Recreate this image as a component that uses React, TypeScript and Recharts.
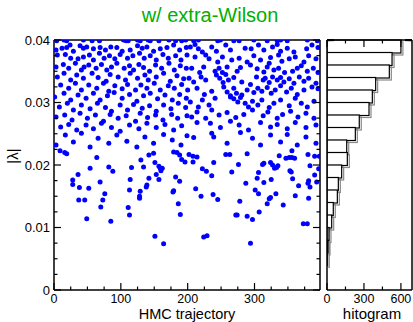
import { ScatterChart, Scatter, XAxis, YAxis, BarChart, Bar } from "recharts";

const FONT = '"Liberation Sans", Arial, Helvetica, sans-serif';

// axis ticks (minor + major) and the labels on the major ones
const trajTicks = [0, 25, 50, 75, 100, 125, 150, 175, 200, 225, 250, 275, 300, 325, 350, 375];
const trajMajor = [0, 100, 200, 300];
const trajLabels = ["0", "100", "200", "300"];
const lambdaTicks = [0, 0.0025, 0.005, 0.0075, 0.01, 0.0125, 0.015, 0.0175, 0.02, 0.0225, 0.025, 0.0275, 0.03, 0.0325, 0.035, 0.0375, 0.04];
const lambdaMajor = [0, 0.01, 0.02, 0.03, 0.04];
const lambdaLabels = ["0", "0.01", "0.02", "0.03", "0.04"];
const countTicks = [0, 150, 300, 450, 600];
const countMajor = [0, 300, 600];
const countLabels = ["0", "300", "600"];

// [HMC trajectory, |lambda|]
const eigUpperLeft: number[][] = [
  [4, 0.0399], [15, 0.04], [19, 0.0399], [44, 0.04], [57, 0.0399], [68, 0.0399], [104, 0.04], [108, 0.0399], [111, 0.0399],
  [125, 0.04], [129, 0.0399], [141, 0.04], [144, 0.0399], [157, 0.0399], [172, 0.04], [182, 0.0399], [191, 0.0399], [197, 0.04],
  [3, 0.0384], [12, 0.0387], [19, 0.0388], [24, 0.0392], [29, 0.0382], [39, 0.0391], [44, 0.0387], [49, 0.0389], [59, 0.0386],
  [69, 0.0388], [77, 0.0384], [85, 0.0389], [94, 0.0388], [102, 0.0382], [114, 0.0384], [125, 0.0391], [132, 0.0387], [139, 0.0389],
  [149, 0.0382], [159, 0.0386], [169, 0.0388], [179, 0.0392], [188, 0.0384], [198, 0.0388],
  [5, 0.0376], [17, 0.0377], [25, 0.0371], [36, 0.037], [44, 0.0373], [53, 0.0376], [59, 0.0368], [68, 0.0379], [75, 0.0371],
  [83, 0.0375], [91, 0.037], [99, 0.0377], [110, 0.0371], [118, 0.0375], [128, 0.0379], [135, 0.0371], [144, 0.0375], [153, 0.0368],
  [163, 0.0377], [171, 0.0371], [182, 0.0375], [190, 0.0368], [199, 0.0376],
  [3, 0.0357], [14, 0.0361], [22, 0.0355], [32, 0.0363], [41, 0.0352], [45, 0.0357], [52, 0.036], [63, 0.0355], [71, 0.0361],
  [79, 0.0352], [86, 0.0357], [94, 0.0363], [105, 0.0355], [113, 0.0359], [119, 0.0352], [127, 0.0361], [134, 0.0356], [143, 0.035],
  [152, 0.036], [161, 0.0355], [172, 0.0363], [180, 0.0352], [189, 0.0359], [198, 0.0355],
  [5, 0.0341], [15, 0.0347], [25, 0.0336], [34, 0.0344], [44, 0.0339], [57, 0.0347], [66, 0.034], [78, 0.0334], [84, 0.0345],
  [96, 0.0341], [107, 0.0336], [114, 0.0347], [125, 0.0339], [136, 0.0344], [141, 0.0336], [153, 0.0341], [164, 0.0347], [174, 0.0334],
  [184, 0.0343], [194, 0.0338],
  [10, 0.0328], [22, 0.0323], [32, 0.0331], [41, 0.032], [52, 0.0328], [64, 0.0323], [74, 0.0331], [82, 0.0318], [91, 0.0327],
  [102, 0.0322], [110, 0.0329], [122, 0.032], [130, 0.0328], [139, 0.0323], [150, 0.0331], [159, 0.032], [171, 0.0327], [180, 0.0323],
  [191, 0.0329], [200, 0.032],
  [1, 0.0309], [15, 0.0315], [25, 0.0304], [36, 0.0312], [48, 0.0307], [59, 0.0315], [69, 0.0304], [80, 0.0311], [90, 0.0316],
  [102, 0.0307], [113, 0.0313], [124, 0.0302], [134, 0.0311], [144, 0.0315], [155, 0.0306], [166, 0.0312], [177, 0.0304], [188, 0.0313],
  [198, 0.0307],
  [8, 0.0293], [20, 0.0299], [29, 0.0288], [41, 0.0296], [54, 0.029], [65, 0.0299], [77, 0.0292], [86, 0.0286], [99, 0.0296],
  [110, 0.0288], [119, 0.0297], [132, 0.0291], [143, 0.0295], [153, 0.0286], [164, 0.0296], [175, 0.029], [186, 0.0299], [197, 0.0292],
  [3, 0.0277], [16, 0.028], [27, 0.0272], [39, 0.0283], [50, 0.0275], [62, 0.028], [74, 0.027], [84, 0.0281], [96, 0.0275],
  [108, 0.0279], [122, 0.027], [129, 0.0283], [140, 0.0276], [152, 0.028], [163, 0.0272], [176, 0.0281], [185, 0.0275], [199, 0.0279],
  [10, 0.0261], [22, 0.0265], [34, 0.0256], [48, 0.0264], [59, 0.0258], [71, 0.0267], [86, 0.026], [99, 0.0254], [113, 0.0264],
  [127, 0.0258], [139, 0.0267], [153, 0.026], [166, 0.0265], [179, 0.0256], [191, 0.0263],
  [3, 0.0232], [17, 0.0248], [29, 0.0237], [41, 0.0251], [54, 0.0229], [66, 0.0243], [82, 0.0235], [94, 0.0248], [109, 0.0238],
  [124, 0.0229], [136, 0.0245], [149, 0.0235], [164, 0.0249], [177, 0.024], [190, 0.0232], [199, 0.0247],
];

const eigUpperRight: number[][] = [
  [209, 0.0399], [216, 0.04], [245, 0.0399], [249, 0.04], [269, 0.0399], [277, 0.0399], [299, 0.04], [319, 0.0399],
  [334, 0.0399], [339, 0.04], [349, 0.0399], [379, 0.04], [394, 0.0399],
  [204, 0.0389], [211, 0.0393], [216, 0.0386], [222, 0.0381], [236, 0.0389], [243, 0.0382], [257, 0.0392], [264, 0.0384],
  [286, 0.0387], [295, 0.0386], [306, 0.0392], [314, 0.0384], [327, 0.0389], [334, 0.0393], [339, 0.0382], [349, 0.0387],
  [359, 0.0381], [378, 0.0386], [386, 0.0392], [395, 0.0388],
  [211, 0.0373], [227, 0.0376], [232, 0.037], [245, 0.0365], [252, 0.0373], [266, 0.0368], [277, 0.0371], [289, 0.0365],
  [299, 0.0375], [309, 0.0368], [322, 0.0363], [324, 0.0372], [336, 0.0376], [341, 0.0366], [352, 0.037], [361, 0.0373],
  [374, 0.0365], [381, 0.0375], [392, 0.037],
  [206, 0.0355], [218, 0.0348], [224, 0.0357], [241, 0.035], [247, 0.0355], [252, 0.0348], [259, 0.0357], [274, 0.035],
  [279, 0.0356], [294, 0.036], [304, 0.0354], [314, 0.0349], [319, 0.0357], [329, 0.0352], [336, 0.0355], [345, 0.0348],
  [357, 0.035], [364, 0.0355], [370, 0.0359], [379, 0.035], [388, 0.0355], [395, 0.0348],
  [202, 0.0339], [209, 0.0333], [220, 0.0341], [227, 0.0336], [243, 0.0344], [248, 0.0339], [253, 0.0332], [257, 0.0345],
  [261, 0.0336], [269, 0.034], [281, 0.0333], [294, 0.0329], [303, 0.0341], [313, 0.0336], [316, 0.0339], [322, 0.0332],
  [327, 0.0341], [334, 0.0336], [339, 0.034], [344, 0.0333], [352, 0.0338], [359, 0.0331], [367, 0.0341], [374, 0.0334],
  [381, 0.0339], [392, 0.0331],
  [214, 0.0323], [225, 0.0313], [236, 0.0318], [254, 0.0325], [259, 0.0317], [264, 0.0311], [269, 0.0323], [273, 0.0315],
  [281, 0.0312], [289, 0.032], [299, 0.0316], [305, 0.0323], [311, 0.0318], [319, 0.0324], [325, 0.0315], [331, 0.032],
  [339, 0.0327], [348, 0.0317], [355, 0.0323], [364, 0.0313], [374, 0.032], [386, 0.0325], [395, 0.0322],
  [204, 0.0301], [216, 0.0293], [222, 0.0304], [232, 0.0296], [241, 0.0307], [264, 0.0309], [269, 0.0306], [275, 0.0301],
  [279, 0.0308], [286, 0.0299], [291, 0.0293], [297, 0.0302], [305, 0.0296], [311, 0.0304], [322, 0.0292], [329, 0.0299],
  [339, 0.0304], [352, 0.0295], [361, 0.0307], [370, 0.0299], [379, 0.0293], [389, 0.0302],
  [206, 0.0277], [214, 0.0285], [227, 0.0275], [236, 0.0288], [247, 0.028], [259, 0.0284], [272, 0.0276], [284, 0.0281],
  [297, 0.0288], [313, 0.0279], [320, 0.0285], [334, 0.0275], [342, 0.0281], [354, 0.0286], [365, 0.0277], [377, 0.0283],
  [389, 0.0275],
  [214, 0.0268], [234, 0.0267], [249, 0.026], [264, 0.027], [277, 0.0264], [291, 0.0256], [309, 0.0268], [324, 0.0261],
  [334, 0.0265], [349, 0.0258], [361, 0.0268], [377, 0.026], [392, 0.0264],
  [209, 0.0244], [236, 0.0251], [239, 0.0245], [259, 0.0235], [279, 0.0252], [297, 0.0243], [309, 0.0232], [324, 0.0248],
  [339, 0.0237], [349, 0.0249], [364, 0.0232], [377, 0.0245], [392, 0.0235],
];

const eigLower: number[][] = [
  [9, 0.0223], [16, 0.022], [19, 0.0218], [64, 0.0212], [36, 0.0185], [28, 0.0176], [28, 0.0169], [38, 0.0164], [54, 0.0195],
  [37, 0.0144], [46, 0.0144], [52, 0.0163], [49, 0.0114], [69, 0.0173], [76, 0.0154], [73, 0.0144], [70, 0.0133], [82, 0.0197],
  [88, 0.019], [85, 0.011], [116, 0.0196], [114, 0.0177], [113, 0.016], [111, 0.0132], [113, 0.012], [130, 0.0208], [134, 0.0197],
  [129, 0.0158], [128, 0.015], [128, 0.0147], [139, 0.0168], [138, 0.0165], [142, 0.0179], [142, 0.0216], [149, 0.0219],
  [151, 0.0204], [157, 0.0198], [159, 0.0195], [160, 0.0191], [162, 0.0195], [153, 0.0185], [157, 0.0177], [151, 0.0086],
  [164, 0.0074], [179, 0.0221], [184, 0.022], [188, 0.0216], [191, 0.0209], [196, 0.0205], [182, 0.0181], [188, 0.0174],
  [179, 0.0159], [178, 0.0157], [186, 0.0138], [189, 0.0121], [202, 0.0217], [208, 0.0214], [214, 0.0213], [208, 0.0205],
  [222, 0.0194], [228, 0.019], [236, 0.0183], [239, 0.0204], [212, 0.0162], [220, 0.015], [238, 0.0153], [245, 0.0145],
  [224, 0.0085], [229, 0.0087], [257, 0.0217], [263, 0.0217], [266, 0.0189], [276, 0.0201], [289, 0.0218], [287, 0.0171],
  [278, 0.0142], [272, 0.012], [274, 0.012], [289, 0.0118], [297, 0.0113], [294, 0.0075], [301, 0.016], [304, 0.0179],
  [306, 0.0188], [306, 0.0154], [307, 0.0125], [312, 0.0201], [314, 0.0203], [314, 0.0172], [319, 0.0138], [322, 0.0146],
  [324, 0.0148], [324, 0.0204], [327, 0.02], [330, 0.0195], [333, 0.0196], [335, 0.0199], [325, 0.0177], [332, 0.0154],
  [337, 0.0215], [343, 0.0136], [347, 0.0211], [352, 0.0212], [356, 0.0212], [360, 0.0211], [353, 0.0191], [355, 0.0189],
  [356, 0.0223], [357, 0.0178], [361, 0.0151], [366, 0.0167], [373, 0.0106], [379, 0.0106], [380, 0.0217], [390, 0.0214],
  [397, 0.0214], [383, 0.0199], [390, 0.0184], [393, 0.0173], [381, 0.0175], [380, 0.0171], [383, 0.0165], [381, 0.0147],
  [396, 0.0194],
];

// histogram of |lambda|, bins of width 0.002, top bin first
const histBinLow = [0.038, 0.036, 0.034, 0.032, 0.03, 0.028, 0.026, 0.024, 0.022, 0.02, 0.018, 0.016, 0.014, 0.012, 0.01, 0.008, 0.006, 0.004, 0.002, 0];
const histCounts = [600, 528, 506, 395, 368, 341, 262, 230, 160, 165, 119, 92, 84, 51, 38, 16, 8, 2, 0, 0];

const points = [...eigUpperLeft, ...eigUpperRight, ...eigLower].map(([t, l]) => ({ t, l }));
const histData = histBinLow.map((b, i) => ({ bin: b.toFixed(3), count: histCounts[i] }));

const AXIS = { stroke: "#000", strokeWidth: 1.5 };

// inward tick marks (xmgrace style), labels only on major ticks
function makeTick(side: string, majors: number[], labels: string[] | null) {
  return (p: any) => {
    const v = Number(p.payload?.value);
    const i = majors.findIndex((m) => Math.abs(m - v) < 1e-9);
    const len = i >= 0 ? 7 : 3.5;
    const { x, y } = p;
    let c = [x, y, x, y - len];
    if (side === "top") c = [x, y, x, y + len];
    if (side === "left") c = [x, y, x + len, y];
    if (side === "right") c = [x, y, x - len, y];
    const label = labels && i >= 0 ? labels[i] : null;
    return (
      <g>
        <line x1={c[0]} y1={c[1]} x2={c[2]} y2={c[3]} stroke="#000" strokeWidth={1.2} />
        {label !== null && side === "bottom" && (
          <text x={x} y={y + 13} textAnchor="middle" fontSize={12.5} fontFamily={FONT} fill="#000">
            {label}
          </text>
        )}
        {label !== null && side === "left" && (
          <text x={x - 4} y={y + 4.5} textAnchor="end" fontSize={13} fontFamily={FONT} fill="#000">
            {label}
          </text>
        )}
      </g>
    );
  };
}

const Dot = (p: any) => <circle cx={p.cx} cy={p.cy} r={2.5} fill="#0000ff" />;

const HistBar = (p: any) => {
  const { x, y, width, height } = p;
  if (!width || width <= 0) return <g />;
  return (
    <g>
      <rect x={x + 2} y={y + 2} width={width} height={height} fill="none" stroke="#8a8a8a" strokeWidth={1.2} />
      <rect x={x} y={y} width={width} height={height} fill="#fff" stroke="#000" strokeWidth={1.2} />
    </g>
  );
};

const layer = { position: "absolute" as const, left: 0, top: 0 };

export default function App() {
  return (
    <div style={{ position: "fixed", left: 0, top: 0, width: 413, height: 322, background: "#fff" }}>
      <div style={layer}>
        <ScatterChart width={413} height={322} margin={{ top: 39, right: 92, bottom: 0, left: 0 }}>
          <XAxis xAxisId="b" type="number" dataKey="t" domain={[0, 398]} allowDataOverflow ticks={trajTicks}
            interval={0} height={32} tickSize={0} tickMargin={0} tickLine={false} axisLine={AXIS}
            tick={makeTick("bottom", trajMajor, trajLabels)} />
          <XAxis xAxisId="t" orientation="top" type="number" domain={[0, 398]} allowDataOverflow ticks={trajTicks}
            interval={0} height={1} tickSize={0} tickMargin={0} tickLine={false} axisLine={AXIS}
            tick={makeTick("top", trajMajor, null)} />
          <YAxis yAxisId="l" type="number" dataKey="l" domain={[0, 0.04]} allowDataOverflow ticks={lambdaTicks}
            interval={0} width={54} tickSize={0} tickMargin={0} tickLine={false} axisLine={AXIS}
            tick={makeTick("left", lambdaMajor, lambdaLabels)} />
          <YAxis yAxisId="r" orientation="right" type="number" domain={[0, 0.04]} allowDataOverflow ticks={lambdaTicks}
            interval={0} width={1} tickSize={0} tickMargin={0} tickLine={false} axisLine={AXIS}
            tick={makeTick("right", lambdaMajor, null)} />
          <Scatter data={points} xAxisId="b" yAxisId="l" shape={Dot} isAnimationActive={false} />
        </ScatterChart>
      </div>
      <div style={layer}>
        <BarChart width={413} height={322} layout="vertical" data={histData} barCategoryGap={0}
          margin={{ top: 39, right: 0, bottom: 0, left: 326 }}>
          <XAxis xAxisId="b" type="number" dataKey="count" domain={[0, 690]} allowDataOverflow ticks={countTicks}
            interval={0} height={32} tickSize={0} tickMargin={0} tickLine={false} axisLine={AXIS}
            tick={makeTick("bottom", countMajor, countLabels)} />
          <XAxis xAxisId="t" orientation="top" type="number" domain={[0, 690]} allowDataOverflow ticks={countTicks}
            interval={0} height={1} tickSize={0} tickMargin={0} tickLine={false} axisLine={AXIS}
            tick={makeTick("top", countMajor, null)} />
          <YAxis yAxisId="l" type="number" domain={[0, 0.04]} allowDataOverflow ticks={lambdaTicks}
            interval={0} width={1} tickSize={0} tickMargin={0} tickLine={false} axisLine={AXIS}
            tick={makeTick("left", lambdaMajor, null)} />
          <YAxis yAxisId="r" orientation="right" type="number" domain={[0, 0.04]} allowDataOverflow ticks={lambdaTicks}
            interval={0} width={1} tickSize={0} tickMargin={0} tickLine={false} axisLine={AXIS}
            tick={makeTick("right", lambdaMajor, null)} />
          <YAxis yAxisId="bins" type="category" dataKey="bin" hide width={0} />
          <Bar xAxisId="b" yAxisId="bins" dataKey="count" shape={HistBar} isAnimationActive={false} />
        </BarChart>
      </div>
      <svg width={413} height={322} style={{ ...layer, pointerEvents: "none" }}>
        <text x={210} y={22} textAnchor="middle" fontSize={20} fontFamily={FONT} fill="#00b000">
          w/ extra-Wilson
        </text>
        <text x={187} y={319} textAnchor="middle" fontSize={14.5} fontFamily={FONT} fill="#000">
          HMC trajectory
        </text>
        <text x={372} y={319} textAnchor="middle" fontSize={15} fontFamily={FONT} fill="#000">
          hitogram
        </text>
        <text x={18} y={156} textAnchor="middle" fontSize={15} fontFamily={FONT} fill="#000"
          transform="rotate(-90 18 156)">
          |λ|
        </text>
      </svg>
    </div>
  );
}
